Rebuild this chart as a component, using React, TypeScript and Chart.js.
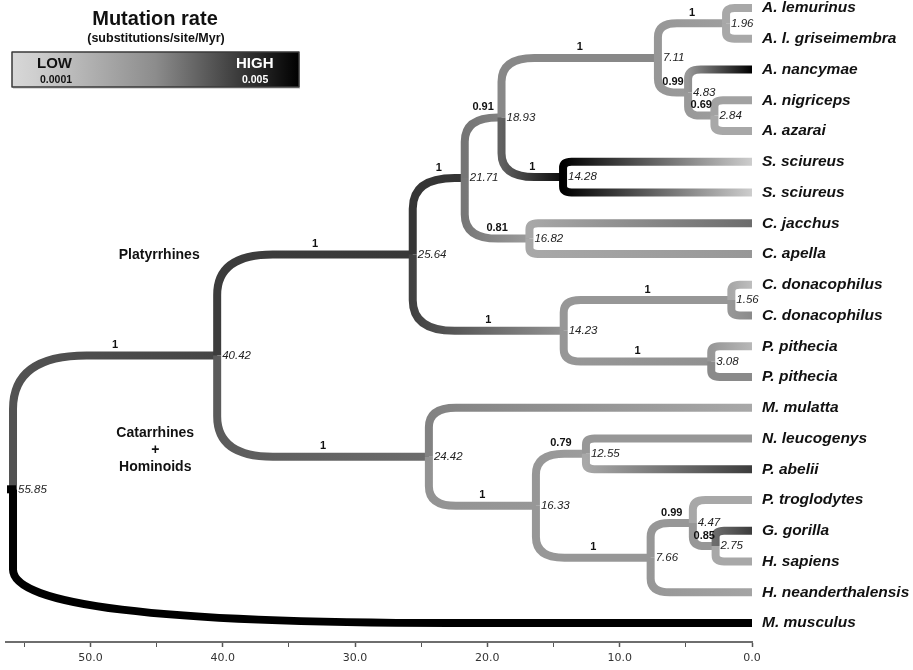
import React, { useEffect, useRef } from 'react';
import { Chart, registerables } from 'chart.js';

Chart.register(...registerables);

// ---- Data ----
const taxa = [
  'A. lemurinus', 'A. l. griseimembra', 'A. nancymae', 'A. nigriceps', 'A. azarai',
  'S. sciureus', 'S. sciureus', 'C. jacchus', 'C. apella', 'C. donacophilus',
  'C. donacophilus', 'P. pithecia', 'P. pithecia', 'M. mulatta', 'N. leucogenys',
  'P. abelii', 'P. troglodytes', 'G. gorilla', 'H. sapiens', 'H. neanderthalensis',
  'M. musculus',
];
// parent internal node of each taxon
const taxonParent = [6, 6, 7, 8, 8, 9, 9, 10, 10, 12, 12, 13, 13, 14, 16, 16, 18, 19, 19, 17, 0];
// relative mutation rate (0 = low, 1 = high) at start / end of each terminal branch
const taxonRateStart = [0.22, 0.22, 0.3, 0.25, 0.22, 1.0, 1.0, 0.22, 0.22, 0.22, 0.3, 0.3, 0.36, 0.4, 0.3, 0.22, 0.22, 0.5, 0.22, 0.3, 1.0];
const taxonRateEnd = [0.22, 0.22, 1.0, 0.25, 0.22, 0.05, 0.05, 0.5, 0.3, 0.12, 0.36, 0.15, 0.36, 0.22, 0.3, 0.72, 0.22, 0.72, 0.22, 0.24, 1.0];

// internal nodes: divergence ages (Myr)
const nodeAge = [55.85, 40.42, 25.64, 21.71, 18.93, 7.11, 1.96, 4.83, 2.84, 14.28, 16.82, 14.23, 1.56, 3.08, 24.42, 16.33, 12.55, 7.66, 4.47, 2.75];
const nodeParent = [-1, 0, 1, 2, 3, 4, 5, 5, 7, 4, 3, 2, 11, 11, 1, 14, 15, 15, 17, 18];
const nodeSupport = ['', '1', '1', '1', '0.91', '1', '1', '0.99', '0.69', '1', '0.81', '1', '1', '1', '1', '1', '0.79', '1', '0.99', '0.85'];
const nodeRateStart = [0, 0.62, 0.72, 0.75, 0.46, 0.37, 0.3, 0.3, 0.29, 0.55, 0.45, 0.7, 0.3, 0.3, 0.58, 0.32, 0.3, 0.3, 0.3, 0.3];
const nodeRateEnd = [0, 0.68, 0.74, 0.76, 0.4, 0.37, 0.27, 0.29, 0.28, 0.95, 0.28, 0.32, 0.3, 0.33, 0.5, 0.3, 0.28, 0.3, 0.3, 0.3];

const axisTickValues = [0, 10, 20, 30, 40, 50];
const cladeNames = ['Platyrrhines', 'Catarrhines', '+', 'Hominoids'];
const cladeAge = [44.8, 45.1, 45.1, 45.1];
const cladeRow = [8.03, 13.82, 14.37, 14.93];

const legendTitle = 'Mutation rate';
const legendSub = '(substitutions/site/Myr)';
const legendLow = ['LOW', '0.0001'];
const legendHigh = ['HIGH', '0.005'];

// ---- Layout computation (tree topology) ----
const nNodes = nodeAge.length;
const children: { type: 'n' | 't'; i: number }[][] = Array.from({ length: nNodes }, () => []);
nodeParent.forEach((p, i) => { if (p >= 0) children[p].push({ type: 'n', i }); });
taxonParent.forEach((p, i) => children[p].push({ type: 't', i }));
const nodeRow: number[] = new Array(nNodes).fill(0);
function rowOf(c: { type: 'n' | 't'; i: number }): number {
  if (c.type === 't') return c.i;
  const rows = children[c.i].map(rowOf);
  const r = (Math.min(...rows) + Math.max(...rows)) / 2;
  nodeRow[c.i] = r;
  return r;
}
rowOf({ type: 'n', i: 0 });

const FONT = '"Liberation Sans", Arial, Helvetica, sans-serif';

function gray(r: number) {
  const v = Math.round(Math.max(0, Math.min(216, 216 * (1 - r))));
  return `rgb(${v},${v},${v})`;
}

function drawBranch(ctx: CanvasRenderingContext2D, px: number, py: number, cx: number, cy: number, c0: string, c1: string) {
  const dy = cy - py;
  const dx = cx - px;
  const ady = Math.abs(dy);
  const s = Math.sign(dy) || 1;
  const ry = 0.4 * ady;
  const rx = dx > 600 ? 0.59 * dx : Math.min(0.55 * ady, 0.9 * dx);
  ctx.beginPath();
  ctx.moveTo(px, py);
  ctx.lineTo(px, cy - s * ry);
  ctx.quadraticCurveTo(px, cy, px + rx, cy);
  ctx.lineTo(cx, cy);
  const g = ctx.createLinearGradient(px, 0, cx, 0);
  g.addColorStop(0, c0);
  g.addColorStop(1, c1);
  ctx.strokeStyle = g;
  ctx.lineWidth = 8;
  ctx.lineCap = 'butt';
  ctx.lineJoin = 'round';
  ctx.stroke();
}

const treePlugin = {
  id: 'tree',
  beforeDatasetsDraw(chart: any) {
    const { ctx, scales } = chart;
    const xs = scales.x;
    const ys = scales.y;
    const X = (a: number) => xs.getPixelForValue(a);
    const Y = (r: number) => ys.getPixelForValue(r);
    ctx.save();
    // internal branches (parents first)
    for (let j = 1; j < nNodes; j++) {
      const p = nodeParent[j];
      drawBranch(ctx, X(nodeAge[p]), Y(nodeRow[p]), X(nodeAge[j]), Y(nodeRow[j]), gray(nodeRateStart[j]), gray(nodeRateEnd[j]));
    }
    // terminal branches
    taxa.forEach((_, i) => {
      const p = taxonParent[i];
      drawBranch(ctx, X(nodeAge[p]), Y(nodeRow[p]), X(0), Y(i), gray(taxonRateStart[i]), gray(taxonRateEnd[i]));
    });
    // root marker
    ctx.fillStyle = '#000';
    ctx.fillRect(X(nodeAge[0]) - 6, Y(nodeRow[0]) - 4, 9, 8);

    // support values
    ctx.fillStyle = '#111';
    ctx.font = `bold 11px ${FONT}`;
    ctx.textAlign = 'center';
    ctx.textBaseline = 'bottom';
    for (let j = 1; j < nNodes; j++) {
      const p = nodeParent[j];
      const mx = (X(nodeAge[p]) + X(nodeAge[j])) / 2;
      ctx.fillText(nodeSupport[j], mx, Y(nodeRow[j]) - 5);
    }
    // node ages
    ctx.font = `italic 11.5px ${FONT}`;
    ctx.fillStyle = '#222';
    ctx.textAlign = 'left';
    ctx.textBaseline = 'middle';
    for (let j = 0; j < nNodes; j++) {
      ctx.fillText(nodeAge[j].toFixed(2), X(nodeAge[j]) + 5, Y(nodeRow[j]));
    }
    // taxon labels
    ctx.font = `bold italic 15.5px ${FONT}`;
    ctx.fillStyle = '#111';
    taxa.forEach((t, i) => ctx.fillText(t, X(0) + 10, Y(i)));

    // clade labels
    ctx.font = `bold 14px ${FONT}`;
    ctx.textAlign = 'center';
    cladeNames.forEach((c, i) => ctx.fillText(c, X(cladeAge[i]), Y(cladeRow[i])));

    // legend
    ctx.fillStyle = '#111';
    ctx.font = `bold 20px ${FONT}`;
    ctx.fillText(legendTitle, 155, 19);
    ctx.font = `bold 12.5px ${FONT}`;
    ctx.fillText(legendSub, 156, 39);
    const bx = 12, by = 52, bw = 287, bh = 35;
    const lg = ctx.createLinearGradient(bx, 0, bx + bw, 0);
    lg.addColorStop(0, '#d8d8d8');
    lg.addColorStop(0.08, '#cfcfcf');
    lg.addColorStop(0.5, '#8c8c8c');
    lg.addColorStop(0.85, '#2a2a2a');
    lg.addColorStop(1, '#000');
    ctx.fillStyle = 'rgba(0,0,0,0.15)';
    ctx.fillRect(bx + 1, by + 2, bw, bh);
    ctx.fillStyle = lg;
    ctx.fillRect(bx, by, bw, bh);
    ctx.strokeStyle = '#3a3a3a';
    ctx.lineWidth = 1.5;
    ctx.strokeRect(bx, by, bw, bh);
    ctx.textAlign = 'left';
    ctx.fillStyle = '#111';
    ctx.font = `bold 15px ${FONT}`;
    ctx.fillText(legendLow[0], 37, 64);
    ctx.font = `bold 10.5px ${FONT}`;
    ctx.fillText(legendLow[1], 40, 80);
    ctx.fillStyle = '#fff';
    ctx.font = `bold 15px ${FONT}`;
    ctx.fillText(legendHigh[0], 236, 64);
    ctx.font = `bold 10.5px ${FONT}`;
    ctx.fillText(legendHigh[1], 242, 80);
    ctx.restore();
  },
};

export default function App() {
  const ref = useRef<HTMLCanvasElement>(null);
  useEffect(() => {
    if (!ref.current) return;
    const points = nodeAge.map((a, j) => ({ x: a, y: nodeRow[j] })).concat(taxa.map((_, i) => ({ x: 0, y: i })));
    const chart = new Chart(ref.current, {
      type: 'scatter',
      data: { datasets: [{ data: points, pointRadius: 0, pointHoverRadius: 0, showLine: false }] },
      options: {
        animation: false,
        responsive: false,
        devicePixelRatio: 1,
        events: [],
        layout: { padding: { left: 6, right: 161, top: 0, bottom: 0 } },
        plugins: { legend: { display: false }, tooltip: { enabled: false }, title: { display: false } },
        scales: {
          x: {
            type: 'linear',
            reverse: true,
            min: 0,
            max: 56.38,
            position: 'bottom',
            afterFit: (s: any) => { s.height = 28; },
            border: { display: true, color: '#6e6e6e', width: 2 },
            grid: {
              display: true,
              drawOnChartArea: false,
              drawTicks: true,
              tickLength: 5,
              tickColor: '#555',
              tickWidth: (c: any) => (axisTickValues.includes(Math.round(c.tick.value)) ? 1.5 : 1),
            },
            ticks: {
              stepSize: 5,
              includeBounds: false,
              autoSkip: false,
              maxRotation: 0,
              padding: 5,
              color: '#333',
              font: { family: '"DejaVu Sans", sans-serif', size: 11 },
              callback: (v: any) => (axisTickValues.includes(Number(v)) ? Number(v).toFixed(1) : ''),
            },
          },
          y: { type: 'linear', reverse: true, min: -0.26, max: 20.618, display: false },
        },
      },
      plugins: [treePlugin],
    } as any);
    return () => chart.destroy();
  }, []);
  return (
    <div style={{ position: 'absolute', left: 0, top: 0, width: 913, height: 670, background: '#fff' }}>
      <canvas ref={ref} width={913} height={670} style={{ display: 'block' }} />
    </div>
  );
}
